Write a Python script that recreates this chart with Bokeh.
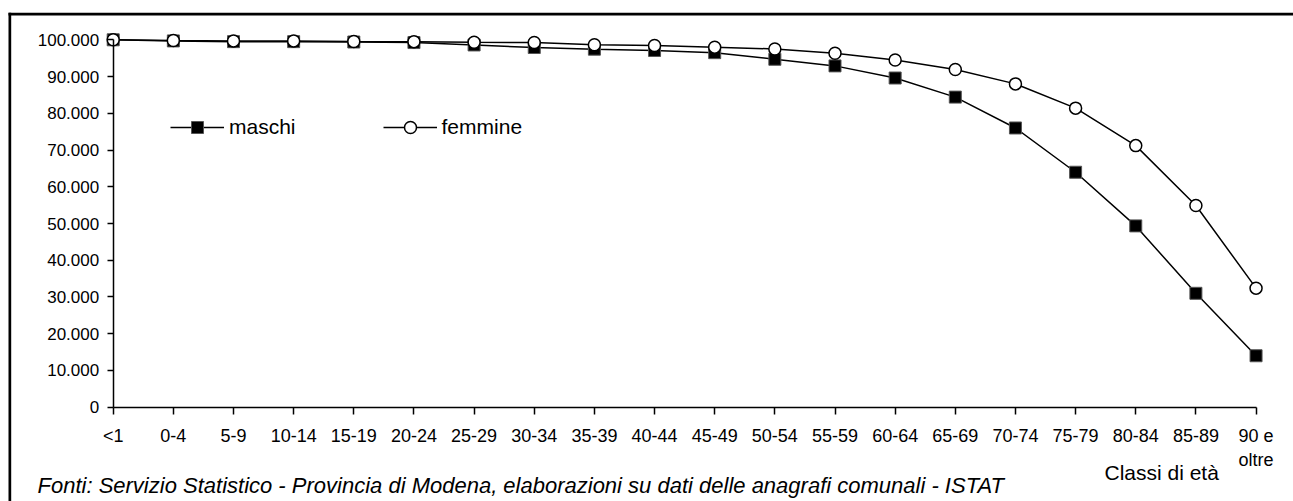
from bokeh.plotting import figure
from bokeh.models import FixedTicker, Range1d, Label, BoxAnnotation
from bokeh.embed import file_html
from bokeh.resources import INLINE

categories = ["<1", "0-4", "5-9", "10-14", "15-19", "20-24", "25-29", "30-34", "35-39",
              "40-44", "45-49", "50-54", "55-59", "60-64", "65-69", "70-74", "75-79",
              "80-84", "85-89", "90 e\noltre"]
maschi = [100000, 99700, 99500, 99500, 99400, 99250, 98600, 97900, 97450, 97100,
          96500, 94700, 92900, 89600, 84400, 76000, 63950, 49350, 31000, 14000]
femmine = [100000, 99800, 99700, 99700, 99550, 99500, 99350, 99250, 98650, 98450,
           98000, 97500, 96350, 94500, 91900, 88000, 81400, 71200, 54900, 32400]
y_ticks = [0, 10000, 20000, 30000, 40000, 50000, 60000, 70000, 80000, 90000, 100000]
y_tick_labels = ["0", "10.000", "20.000", "30.000", "40.000", "50.000", "60.000",
                 "70.000", "80.000", "90.000", "100.000"]
x_title = "Classi di età"
source_note = "Fonti: Servizio Statistico - Provincia di Modena, elaborazioni su dati delle anagrafi comunali - ISTAT"

FONT = "Liberation Sans"
xs = list(range(len(categories)))

# layout: the plot frame covers the whole canvas; axes sit at x=0 / y=0
W, H = 1293, 501
X0_PX, X_STEP = 112.7, 60.15            # canvas px of first category, px per category
Y0_PX, Y_SCALE = 406.7, 367.4 / 100000  # canvas px of value 0, px per unit
x_start = -X0_PX / X_STEP
x_end = x_start + W / X_STEP
y_end = Y0_PX / Y_SCALE
y_start = y_end - H / Y_SCALE

p = figure(width=W, height=H,
           x_range=Range1d(x_start, x_end), y_range=Range1d(y_start, y_end),
           output_backend="svg", toolbar_location=None,
           min_border_left=0, min_border_right=0, min_border_top=0, min_border_bottom=0)
p.outline_line_color = None
p.xgrid.visible = False
p.ygrid.visible = False
p.background_fill_color = "white"
p.border_fill_color = "white"

# outer frame (top and left edges of the chart box), as thin black strips
for l, r, b, t in [(8, W + 20, H - 15.1, H - 12.2), (8, 10.7, -20, H - 12.2)]:
    p.add_layout(BoxAnnotation(left=l, right=r, bottom=b, top=t,
                               left_units="screen", right_units="screen",
                               bottom_units="screen", top_units="screen",
                               fill_color="black", fill_alpha=1.0,
                               line_color=None, editable=False))

# x axis
xa = p.xaxis[0]
xa.ticker = FixedTicker(ticks=xs)
xa.major_label_overrides = {i: c for i, c in enumerate(categories)}
xa.fixed_location = 0
xa.bounds = (0, len(categories) - 1)
xa.axis_line_width = 1.5
xa.major_tick_line_width = 1.5
xa.major_tick_in = 0
xa.major_tick_out = 7
xa.minor_tick_line_color = None
xa.major_label_standoff = 12
xa.major_label_text_font = FONT
xa.major_label_text_font_size = "18px"
xa.major_label_text_color = "black"

# y axis
ya = p.yaxis[0]
ya.ticker = FixedTicker(ticks=y_ticks)
ya.major_label_overrides = {t: l for t, l in zip(y_ticks, y_tick_labels)}
ya.fixed_location = 0
ya.bounds = (0, 100000)
ya.axis_line_width = 1.5
ya.major_tick_line_width = 1.5
ya.major_tick_in = 0
ya.major_tick_out = 6
ya.minor_tick_line_color = None
ya.major_label_standoff = 8
ya.major_label_text_font = FONT
ya.major_label_text_font_size = "17px"
ya.major_label_text_color = "black"

p.line(xs, maschi, line_color="black", line_width=1.5, legend_label="maschi")
p.scatter(xs, maschi, marker="square", size=12, fill_color="black",
          line_color="#555555", line_width=1, legend_label="maschi")
p.line(xs, femmine, line_color="black", line_width=1.5, legend_label="femmine")
p.scatter(xs, femmine, marker="circle", size=12, fill_color="white",
          line_color="black", line_width=1.5, legend_label="femmine")

lg = p.legend[0]
lg.location = (170, 359)
lg.orientation = "horizontal"
lg.glyph_width = 54
lg.glyph_height = 30
lg.label_height = 30
lg.label_standoff = 5
lg.spacing = 87
lg.padding = 0
lg.margin = 0
lg.border_line_color = None
lg.background_fill_alpha = 0
lg.label_text_font = FONT
lg.label_text_font_size = "21px"
lg.label_text_color = "black"

p.add_layout(Label(x=1104, y=29, x_units="screen", y_units="screen", text=x_title,
                   text_font=FONT, text_font_size="21px", text_baseline="middle",
                   text_color="black"))
p.add_layout(Label(x=37, y=16, x_units="screen", y_units="screen", text=source_note,
                   text_font=FONT, text_font_size="22px", text_font_style="italic",
                   text_baseline="middle", text_color="black"))

open("out.html", "w").write(file_html(p, INLINE))
